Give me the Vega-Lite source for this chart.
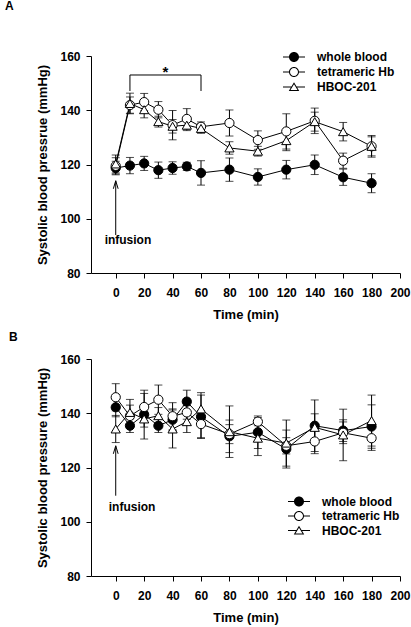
{
  "$schema": "https://vega.github.io/schema/vega-lite/v6.json",
  "background": "white",
  "padding": {"left": 5, "top": 0, "right": 5, "bottom": 5},
  "spacing": 10,
  "datasets": {
    "main": [
      {"panel":"A","series":"whole blood","t":0,"mean":118.7,"sd":2.5},
      {"panel":"A","series":"whole blood","t":10,"mean":119.6,"sd":3},
      {"panel":"A","series":"whole blood","t":20,"mean":120.4,"sd":2.6},
      {"panel":"A","series":"whole blood","t":30,"mean":117.9,"sd":3},
      {"panel":"A","series":"whole blood","t":40,"mean":118.7,"sd":2.3},
      {"panel":"A","series":"whole blood","t":50,"mean":119.3,"sd":1.5},
      {"panel":"A","series":"whole blood","t":60,"mean":116.9,"sd":4.5},
      {"panel":"A","series":"whole blood","t":80,"mean":118.1,"sd":4.3},
      {"panel":"A","series":"whole blood","t":100,"mean":115.4,"sd":3},
      {"panel":"A","series":"whole blood","t":120,"mean":118.1,"sd":3.4},
      {"panel":"A","series":"whole blood","t":140,"mean":119.9,"sd":3.6},
      {"panel":"A","series":"whole blood","t":160,"mean":115.3,"sd":3},
      {"panel":"A","series":"whole blood","t":180,"mean":113.1,"sd":3.5},
      {"panel":"A","series":"tetrameric Hb","t":0,"mean":119.5,"sd":3},
      {"panel":"A","series":"tetrameric Hb","t":10,"mean":141.9,"sd":3},
      {"panel":"A","series":"tetrameric Hb","t":20,"mean":143.0,"sd":3.2},
      {"panel":"A","series":"tetrameric Hb","t":30,"mean":140.2,"sd":3},
      {"panel":"A","series":"tetrameric Hb","t":40,"mean":134.5,"sd":5.4},
      {"panel":"A","series":"tetrameric Hb","t":50,"mean":136.8,"sd":3.8},
      {"panel":"A","series":"tetrameric Hb","t":60,"mean":133.9,"sd":1.8},
      {"panel":"A","series":"tetrameric Hb","t":80,"mean":135.3,"sd":4.8},
      {"panel":"A","series":"tetrameric Hb","t":100,"mean":129.0,"sd":3.4},
      {"panel":"A","series":"tetrameric Hb","t":120,"mean":132.2,"sd":6.5},
      {"panel":"A","series":"tetrameric Hb","t":140,"mean":136.1,"sd":4.7},
      {"panel":"A","series":"tetrameric Hb","t":160,"mean":121.4,"sd":2.8},
      {"panel":"A","series":"tetrameric Hb","t":180,"mean":126.7,"sd":3.5},
      {"panel":"A","series":"HBOC-201","t":0,"mean":120.2,"sd":3.3},
      {"panel":"A","series":"HBOC-201","t":10,"mean":142.5,"sd":3.8},
      {"panel":"A","series":"HBOC-201","t":20,"mean":140.2,"sd":3},
      {"panel":"A","series":"HBOC-201","t":30,"mean":135.8,"sd":2},
      {"panel":"A","series":"HBOC-201","t":40,"mean":134.1,"sd":2.5},
      {"panel":"A","series":"HBOC-201","t":50,"mean":134.5,"sd":2},
      {"panel":"A","series":"HBOC-201","t":60,"mean":133.3,"sd":1.8},
      {"panel":"A","series":"HBOC-201","t":80,"mean":126.1,"sd":2.3},
      {"panel":"A","series":"HBOC-201","t":100,"mean":124.9,"sd":1.8},
      {"panel":"A","series":"HBOC-201","t":120,"mean":128.8,"sd":3.7},
      {"panel":"A","series":"HBOC-201","t":140,"mean":135.8,"sd":3.5},
      {"panel":"A","series":"HBOC-201","t":160,"mean":132.1,"sd":3.4},
      {"panel":"A","series":"HBOC-201","t":180,"mean":126.7,"sd":4},
      {"panel":"B","series":"whole blood","t":0,"mean":142.2,"sd":3.5},
      {"panel":"B","series":"whole blood","t":10,"mean":135.4,"sd":2.5},
      {"panel":"B","series":"whole blood","t":20,"mean":139.5,"sd":9},
      {"panel":"B","series":"whole blood","t":30,"mean":135.4,"sd":2.5},
      {"panel":"B","series":"whole blood","t":40,"mean":137.6,"sd":4},
      {"panel":"B","series":"whole blood","t":50,"mean":144.3,"sd":4.2},
      {"panel":"B","series":"whole blood","t":60,"mean":138.7,"sd":8},
      {"panel":"B","series":"whole blood","t":80,"mean":131.5,"sd":6},
      {"panel":"B","series":"whole blood","t":100,"mean":133.0,"sd":6},
      {"panel":"B","series":"whole blood","t":120,"mean":126.8,"sd":7},
      {"panel":"B","series":"whole blood","t":140,"mean":135.4,"sd":9.5},
      {"panel":"B","series":"whole blood","t":160,"mean":133.6,"sd":4},
      {"panel":"B","series":"whole blood","t":180,"mean":135.1,"sd":8},
      {"panel":"B","series":"tetrameric Hb","t":0,"mean":145.9,"sd":5},
      {"panel":"B","series":"tetrameric Hb","t":10,"mean":139.0,"sd":4},
      {"panel":"B","series":"tetrameric Hb","t":20,"mean":142.3,"sd":5},
      {"panel":"B","series":"tetrameric Hb","t":30,"mean":145.0,"sd":5.4},
      {"panel":"B","series":"tetrameric Hb","t":40,"mean":138.9,"sd":5},
      {"panel":"B","series":"tetrameric Hb","t":50,"mean":140.3,"sd":2.5},
      {"panel":"B","series":"tetrameric Hb","t":60,"mean":136.0,"sd":5},
      {"panel":"B","series":"tetrameric Hb","t":80,"mean":132.3,"sd":3.5},
      {"panel":"B","series":"tetrameric Hb","t":100,"mean":136.9,"sd":1.5},
      {"panel":"B","series":"tetrameric Hb","t":120,"mean":128.0,"sd":3},
      {"panel":"B","series":"tetrameric Hb","t":140,"mean":129.6,"sd":4.5},
      {"panel":"B","series":"tetrameric Hb","t":160,"mean":132.8,"sd":4},
      {"panel":"B","series":"tetrameric Hb","t":180,"mean":130.8,"sd":4.5},
      {"panel":"B","series":"HBOC-201","t":0,"mean":134.2,"sd":5},
      {"panel":"B","series":"HBOC-201","t":10,"mean":140.3,"sd":4.8},
      {"panel":"B","series":"HBOC-201","t":20,"mean":137.9,"sd":3},
      {"panel":"B","series":"HBOC-201","t":30,"mean":139.1,"sd":3},
      {"panel":"B","series":"HBOC-201","t":40,"mean":134.2,"sd":7},
      {"panel":"B","series":"HBOC-201","t":50,"mean":136.9,"sd":4},
      {"panel":"B","series":"HBOC-201","t":60,"mean":141.6,"sd":6},
      {"panel":"B","series":"HBOC-201","t":80,"mean":133.2,"sd":9.5},
      {"panel":"B","series":"HBOC-201","t":100,"mean":130.8,"sd":6.4},
      {"panel":"B","series":"HBOC-201","t":120,"mean":129.0,"sd":8.5},
      {"panel":"B","series":"HBOC-201","t":140,"mean":134.8,"sd":5},
      {"panel":"B","series":"HBOC-201","t":160,"mean":132.0,"sd":9.5},
      {"panel":"B","series":"HBOC-201","t":180,"mean":137.3,"sd":9.4}
    ],
    "ann": [
      {"panel":"A","kind":"arrow","t":0,"mean":94,"mean2":114},
      {"panel":"B","kind":"arrow","t":0,"mean":109.6,"mean2":128},
      {"panel":"A","kind":"label","t":8.6,"mean":92,"text":"infusion"},
      {"panel":"B","kind":"label","t":11.5,"mean":105.5,"text":"infusion"},
      {"panel":"A","kind":"hbar","t":10,"t2":60,"mean":153},
      {"panel":"A","kind":"vbar","t":10,"mean":147.1,"mean2":153},
      {"panel":"A","kind":"vbar","t":60,"mean":147.1,"mean2":153},
      {"panel":"A","kind":"star","t":35,"mean":154.1,"text":"*"}
    ]
  },
  "resolve": {
    "scale": {"x": "independent", "y": "independent", "shape": "independent", "fill": "independent"},
    "legend": {"shape": "independent", "fill": "independent"}
  },
  "vconcat": [
    {
      "title": {"text": "A", "anchor": "start", "frame": "group", "dx": -86, "offset": 37, "fontSize": 12, "font": "Liberation Sans", "fontWeight": "bold", "color": "black"},
      "width": 309,
      "height": 217,
      "resolve": {"scale": {"shape": "independent", "fill": "independent"}, "legend": {"shape": "independent", "fill": "independent"}},
      "encoding": {
        "x": {"field": "t", "type": "quantitative", "scale": {"domain": [-17.4, 200], "nice": false, "zero": false},
              "axis": {"title": "Time (min)", "values": [0,20,40,60,80,100,120,140,160,180,200]}},
        "y": {"field": "mean", "type": "quantitative", "scale": {"domain": [80, 160], "nice": false, "zero": false},
              "axis": {"title": "Systolic blood pressrue (mmHg)", "values": [80,100,120,140,160]}}
      },
      "layer": [
        {
          "data": {"name": "main"},
          "transform": [{"filter": "datum.panel === 'A'"}],
          "mark": {"type": "errorbar", "ticks": {"size": 8}, "color": "black", "thickness": 1},
          "encoding": {"yError": {"field": "sd"}, "detail": {"field": "series"}}
        },
        {
          "data": {"name": "main"},
          "transform": [{"filter": "datum.panel === 'A'"}],
          "mark": {"type": "line", "color": "black", "strokeWidth": 1},
          "encoding": {"detail": {"field": "series"}}
        },
        {
          "data": {"name": "main"},
          "transform": [{"filter": "datum.panel === 'A'"}],
          "mark": {"type": "point", "filled": true, "size": 85, "stroke": "black", "strokeWidth": 1, "opacity": 1},
          "encoding": {
            "shape": {"field": "series", "type": "nominal",
              "scale": {"domain": ["whole blood", "tetrameric Hb", "HBOC-201"], "range": ["circle", "circle", "triangle-up"]},
              "legend": null},
            "fill": {"field": "series", "type": "nominal",
              "scale": {"domain": ["whole blood", "tetrameric Hb", "HBOC-201"], "range": ["black", "white", "white"]},
              "legend": null}
          }
        },
        {
          "data": {"name": "main"},
          "transform": [{"filter": "datum.panel === 'none'"}],
          "mark": {"type": "point", "filled": true, "color": "black", "strokeWidth": 0, "opacity": 1},
          "encoding": {
            "shape": {"field": "series", "type": "nominal",
              "scale": {"domain": ["whole blood", "tetrameric Hb", "HBOC-201"], "range": [
                "M-2.2,-0.1 L-0.9,-0.1 L-0.9,0.1 L-2.2,0.1 Z M0.9,-0.1 L2.2,-0.1 L2.2,0.1 L0.9,0.1 Z M-1,0 A1,1 0 1,1 1,0 A1,1 0 1,1 -1,0 Z",
                "M-2.2,-0.1 L-0.9,-0.1 L-0.9,0.1 L-2.2,0.1 Z M0.9,-0.1 L2.2,-0.1 L2.2,0.1 L0.9,0.1 Z M-1,0 A1,1 0 1,1 1,0 A1,1 0 1,1 -1,0 Z M-0.8,0 A0.8,0.8 0 1,0 0.8,0 A0.8,0.8 0 1,0 -0.8,0 Z",
                "M-2.2,-0.1 L-0.45,-0.1 L-0.45,0.1 L-2.2,0.1 Z M0.45,-0.1 L2.2,-0.1 L2.2,0.1 L0.45,0.1 Z M0,-0.95 L1.05,0.8 L-1.05,0.8 Z M0,-0.561 L-0.697,0.6 L0.697,0.6 Z"]},
              "legend": {"orient": "none", "legendX": 197, "legendY": -5, "title": null, "symbolSize": 100,
                "labelFont": "Liberation Sans", "labelFontSize": 12, "labelFontWeight": "bold", "labelColor": "black",
                "labelOffset": 17, "rowPadding": 3, "symbolStrokeWidth": 0, "symbolFillColor": "black"}}
          }
        },
        {
          "data": {"name": "ann"},
          "transform": [{"filter": "datum.panel === 'A' && datum.kind === 'arrow'"}],
          "mark": {"type": "rule", "color": "black", "strokeWidth": 1},
          "encoding": {"y2": {"field": "mean2"}}
        },
        {
          "data": {"name": "ann"},
          "transform": [{"filter": "datum.panel === 'A' && datum.kind === 'arrow'"}],
          "mark": {"type": "point", "shape": "M-0.6,2 L0,0 L0.6,2", "size": 64, "filled": false, "stroke": "black", "strokeWidth": 1, "opacity": 1},
          "encoding": {"y": {"field": "mean2", "type": "quantitative"}}
        },
        {
          "data": {"name": "ann"},
          "transform": [{"filter": "datum.panel === 'A' && datum.kind === 'label'"}],
          "mark": {"type": "text", "font": "Liberation Sans", "fontSize": 12, "fontWeight": "bold", "color": "black", "align": "center", "baseline": "middle"},
          "encoding": {"text": {"field": "text"}}
        },
        {
          "data": {"name": "ann"},
          "transform": [{"filter": "datum.panel === 'A' && datum.kind === 'hbar'"}],
          "mark": {"type": "rule", "color": "black", "strokeWidth": 1},
          "encoding": {"x2": {"field": "t2"}}
        },
        {
          "data": {"name": "ann"},
          "transform": [{"filter": "datum.panel === 'A' && datum.kind === 'vbar'"}],
          "mark": {"type": "rule", "color": "black", "strokeWidth": 1},
          "encoding": {"y2": {"field": "mean2"}}
        },
        {
          "data": {"name": "ann"},
          "transform": [{"filter": "datum.panel === 'A' && datum.kind === 'star'"}],
          "mark": {"type": "text", "font": "Liberation Sans", "fontSize": 15, "fontWeight": "bold", "color": "black", "align": "center", "baseline": "middle"},
          "encoding": {"text": {"field": "text"}}
        }
      ]
    },
    {
      "title": {"text": "B", "anchor": "start", "frame": "group", "dx": -82, "offset": 9, "fontSize": 12, "font": "Liberation Sans", "fontWeight": "bold", "color": "black"},
      "width": 309,
      "height": 217,
      "resolve": {"scale": {"shape": "independent", "fill": "independent"}, "legend": {"shape": "independent", "fill": "independent"}},
      "encoding": {
        "x": {"field": "t", "type": "quantitative", "scale": {"domain": [-17.4, 200], "nice": false, "zero": false},
              "axis": {"title": "Time (min)", "values": [0,20,40,60,80,100,120,140,160,180,200]}},
        "y": {"field": "mean", "type": "quantitative", "scale": {"domain": [80, 160], "nice": false, "zero": false},
              "axis": {"title": "Systolic blood pressure (mmHg)", "values": [80,100,120,140,160]}}
      },
      "layer": [
        {
          "data": {"name": "main"},
          "transform": [{"filter": "datum.panel === 'B'"}],
          "mark": {"type": "errorbar", "ticks": {"size": 8}, "color": "black", "thickness": 1},
          "encoding": {"yError": {"field": "sd"}, "detail": {"field": "series"}}
        },
        {
          "data": {"name": "main"},
          "transform": [{"filter": "datum.panel === 'B'"}],
          "mark": {"type": "line", "color": "black", "strokeWidth": 1},
          "encoding": {"detail": {"field": "series"}}
        },
        {
          "data": {"name": "main"},
          "transform": [{"filter": "datum.panel === 'B'"}],
          "mark": {"type": "point", "filled": true, "size": 85, "stroke": "black", "strokeWidth": 1, "opacity": 1},
          "encoding": {
            "shape": {"field": "series", "type": "nominal",
              "scale": {"domain": ["whole blood", "tetrameric Hb", "HBOC-201"], "range": ["circle", "circle", "triangle-up"]},
              "legend": null},
            "fill": {"field": "series", "type": "nominal",
              "scale": {"domain": ["whole blood", "tetrameric Hb", "HBOC-201"], "range": ["black", "white", "white"]},
              "legend": null}
          }
        },
        {
          "data": {"name": "main"},
          "transform": [{"filter": "datum.panel === 'none'"}],
          "mark": {"type": "point", "filled": true, "color": "black", "strokeWidth": 0, "opacity": 1},
          "encoding": {
            "shape": {"field": "series", "type": "nominal",
              "scale": {"domain": ["whole blood", "tetrameric Hb", "HBOC-201"], "range": [
                "M-2.2,-0.1 L-0.9,-0.1 L-0.9,0.1 L-2.2,0.1 Z M0.9,-0.1 L2.2,-0.1 L2.2,0.1 L0.9,0.1 Z M-1,0 A1,1 0 1,1 1,0 A1,1 0 1,1 -1,0 Z",
                "M-2.2,-0.1 L-0.9,-0.1 L-0.9,0.1 L-2.2,0.1 Z M0.9,-0.1 L2.2,-0.1 L2.2,0.1 L0.9,0.1 Z M-1,0 A1,1 0 1,1 1,0 A1,1 0 1,1 -1,0 Z M-0.8,0 A0.8,0.8 0 1,0 0.8,0 A0.8,0.8 0 1,0 -0.8,0 Z",
                "M-2.2,-0.1 L-0.45,-0.1 L-0.45,0.1 L-2.2,0.1 Z M0.45,-0.1 L2.2,-0.1 L2.2,0.1 L0.45,0.1 Z M0,-0.95 L1.05,0.8 L-1.05,0.8 Z M0,-0.561 L-0.697,0.6 L0.697,0.6 Z"]},
              "legend": {"orient": "none", "legendX": 202, "legendY": 136.5, "title": null, "symbolSize": 100,
                "labelFont": "Liberation Sans", "labelFontSize": 12, "labelFontWeight": "bold", "labelColor": "black",
                "labelOffset": 17, "rowPadding": 2.5, "symbolStrokeWidth": 0, "symbolFillColor": "black"}}
          }
        },
        {
          "data": {"name": "ann"},
          "transform": [{"filter": "datum.panel === 'B' && datum.kind === 'arrow'"}],
          "mark": {"type": "rule", "color": "black", "strokeWidth": 1},
          "encoding": {"y2": {"field": "mean2"}}
        },
        {
          "data": {"name": "ann"},
          "transform": [{"filter": "datum.panel === 'B' && datum.kind === 'arrow'"}],
          "mark": {"type": "point", "shape": "M-0.6,2 L0,0 L0.6,2", "size": 64, "filled": false, "stroke": "black", "strokeWidth": 1, "opacity": 1},
          "encoding": {"y": {"field": "mean2", "type": "quantitative"}}
        },
        {
          "data": {"name": "ann"},
          "transform": [{"filter": "datum.panel === 'B' && datum.kind === 'label'"}],
          "mark": {"type": "text", "font": "Liberation Sans", "fontSize": 12, "fontWeight": "bold", "color": "black", "align": "center", "baseline": "middle"},
          "encoding": {"text": {"field": "text"}}
        }
      ]
    }
  ],
  "config": {
    "view": {"stroke": null},
    "axis": {
      "grid": false,
      "domainColor": "black",
      "tickColor": "black",
      "tickSize": 5,
      "labelColor": "black",
      "labelFont": "Liberation Sans",
      "labelFontSize": 12,
      "labelFontWeight": "bold",
      "titleColor": "black",
      "titleFont": "Liberation Sans",
      "titleFontSize": 13,
      "titleFontWeight": "bold"
    },
    "axisX": {"labelPadding": 9, "titlePadding": 10, "labelFlush": false},
    "axisY": {"labelPadding": 6, "titlePadding": 10}
  }
}
